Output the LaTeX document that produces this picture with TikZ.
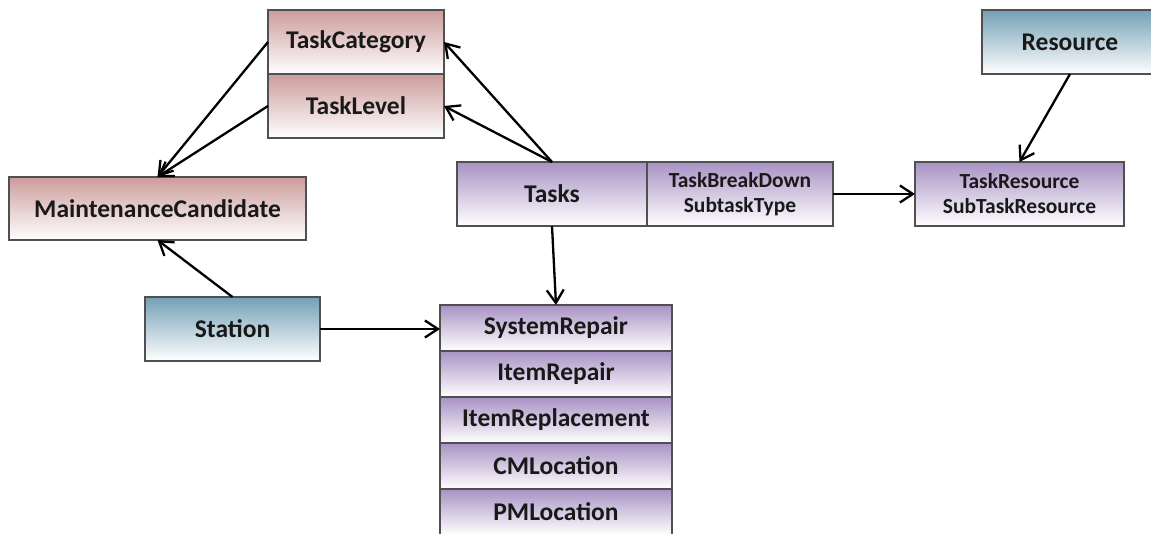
\documentclass[tikz,border=0pt]{standalone}
\usepackage{fontspec}
\setmainfont{Carlito}
\usepackage{tikz}
\usetikzlibrary{arrows.meta, positioning}

\definecolor{rosetop}{RGB}{204,156,156}
\definecolor{lilactop}{RGB}{168,146,196}
\definecolor{tealtop}{RGB}{116,160,182}
\definecolor{boxline}{RGB}{80,80,80}
\definecolor{ink}{RGB}{25,25,25}

\begin{document}
\begin{tikzpicture}[x=1pt,y=-1pt,>={Straight Barb[length=13pt,width=17pt]},
  every node/.style={font=\bfseries\fontsize{25.5}{28}\selectfont, text=ink},
  box/.style={draw=boxline, line width=1.4pt, inner sep=0pt, outer sep=0pt},
  rosebox/.style={box, top color=rosetop, bottom color=white},
  lilacbox/.style={box, top color=lilactop, bottom color=white},
  tealbox/.style={box, top color=tealtop, bottom color=white},
  small/.style={font=\bfseries\fontsize{21.5}{25}\selectfont, align=center},
  stackrow/.style={lilacbox, minimum width=232pt, minimum height=46pt},
  link/.style={->, line width=2.3pt}]
  \useasboundingbox (0,0) rectangle (1151,534);
  \clip (0,0) rectangle (1151,534);

  % task classification
  \node[rosebox, minimum width=176pt, minimum height=64pt] (taskcat) at (356,42) {TaskCategory};
  \node[rosebox, minimum width=176pt, minimum height=64pt, below=0pt of taskcat] (tasklevel) {TaskLevel};
  \node[rosebox, minimum width=297pt, minimum height=63pt] (maintcand) at (157.5,208.5) {MaintenanceCandidate};

  % stations and resources
  \node[tealbox, minimum width=175pt, minimum height=64pt] (station) at (232.5,329) {Station};
  \node[tealbox, minimum width=176pt, minimum height=64pt] (resource) at (1070,42) {Resource};

  % tasks
  \node[lilacbox, minimum width=190pt, minimum height=64pt] (tasks) at (552,194) {Tasks};
  \node[lilacbox, small, minimum width=186pt, minimum height=64pt, right=0pt of tasks] (breakdown) {TaskBreakDown\\SubtaskType};
  \node[lilacbox, small, minimum width=209pt, minimum height=64pt] (taskres) at (1019.5,194) {TaskResource\\SubTaskResource};

  % repair and location stack
  \node[stackrow] (sysrepair) at (556,328) {SystemRepair};
  \node[stackrow, below=0pt of sysrepair] (itemrepair) {ItemRepair};
  \node[stackrow, below=0pt of itemrepair] (itemreplace) {ItemReplacement};
  \node[stackrow, below=0pt of itemreplace] (cmloc) {CMLocation};
  \node[stackrow, below=0pt of cmloc] (pmloc) {PMLocation};

  \draw[link] (taskcat.west) -- (maintcand.north);
  \draw[link] (tasklevel.west) -- (maintcand.north);
  \draw[link] (tasks.north) -- (taskcat.east);
  \draw[link] (tasks.north) -- (tasklevel.east);
  \draw[link] (tasks.south) -- (sysrepair.north);
  \draw[link] (station.north) -- (maintcand.south);
  \draw[link] (station.east) -- (station.east -| sysrepair.west);
  \draw[link] (breakdown.east) -- (taskres.west);
  \draw[link] (resource.south) -- (taskres.north);
\end{tikzpicture}
\end{document}
